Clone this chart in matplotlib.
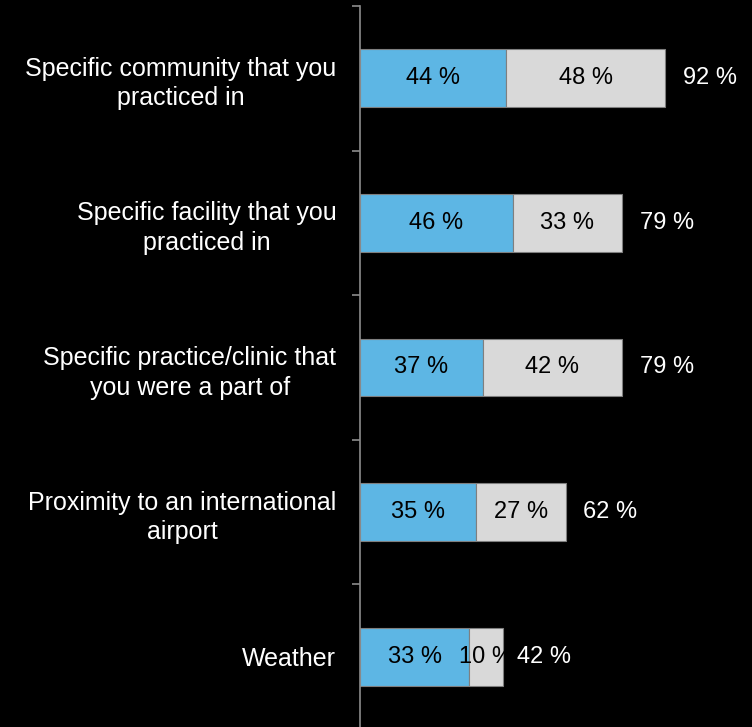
import numpy as np
import matplotlib.pyplot as plt

plt.rcParams['font.family'] = ['Liberation Sans', 'DejaVu Sans']

categories = [
    "Specific community that you\npracticed in",
    "Specific facility that you\npracticed in",
    "Specific practice/clinic that\nyou were a part of",
    "Proximity to an international\nairport",
    "Weather",
]
first_pct = [44, 46, 37, 35, 33]
second_pct = [48, 33, 42, 27, 10]
total_pct = [92, 79, 79, 62, 42]

blue = '#5db6e4'
light = '#d9d9d9'
edge = '#7f7f7f'

fig = plt.figure(figsize=(7.52, 7.27), dpi=100, facecolor='black')
ax = fig.add_axes([360 / 752, -2 / 727, 392 / 752, 723 / 727])
ax.set_facecolor('black')

y = np.arange(len(categories))
h = 0.4
ax.barh(y, first_pct, height=h, color=blue, edgecolor=edge, linewidth=0.8)
ax.barh(y, second_pct, left=first_pct, height=h, color=light, edgecolor=edge, linewidth=0.8)

fs = 17
for i in range(len(categories)):
    a, b = first_pct[i], second_pct[i]
    ax.text(a / 2, i, f"{a} %", ha='center', va='center', fontsize=fs, color='black')
    ax.text(a + b / 2, i, f"{b} %", ha='center', va='center', fontsize=fs, color='black')
    ax.text(total_pct[i] + 5.3, i, f"{total_pct[i]} %", ha='left', va='center',
            fontsize=fs, color='white')

ax.set_xlim(0, 118.2)
ax.set_ylim(len(categories) - 0.5, -0.5)
ax.set_xticks([])
ax.set_yticks(y)
ax.set_yticklabels(categories, fontsize=18, color='white')
for lab in ax.get_yticklabels():
    lab.set_multialignment('center')
    lab.set_linespacing(1.3)
ax.set_yticks(np.arange(-0.5, len(categories)), minor=True)
ax.tick_params(axis='y', which='major', length=0, pad=17)
ax.tick_params(axis='y', which='minor', length=6, width=1.2, color='#8c8c8c')

for s in ['top', 'right', 'bottom']:
    ax.spines[s].set_visible(False)
ax.spines['left'].set_color('#8c8c8c')
ax.spines['left'].set_linewidth(1.2)

fig.savefig('out.png', dpi=100, facecolor='black')
